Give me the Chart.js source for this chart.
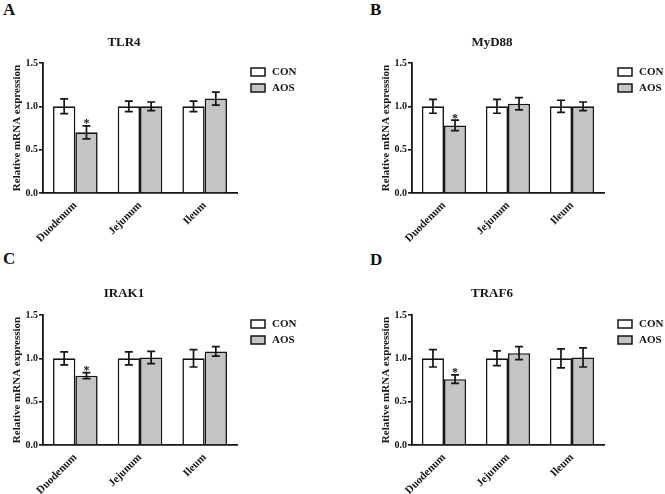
<!DOCTYPE html>
<html><head><meta charset="utf-8">
<script src="https://cdn.jsdelivr.net/npm/chart.js@4/dist/chart.umd.min.js"></script>
<style>
html,body{margin:0;padding:0;background:#fff;width:665px;height:494px;overflow:hidden;position:relative}
canvas{position:absolute}
.lt{position:absolute;font-family:"Liberation Serif",serif;font-weight:bold;font-size:17px;line-height:17px;color:#111}
</style></head><body>
<div class="lt" style="left:3px;top:1px">A</div>
<div class="lt" style="left:370px;top:1px">B</div>
<div class="lt" style="left:3px;top:250px">C</div>
<div class="lt" style="left:370px;top:251px">D</div>
<canvas id="cA" width="363" height="247" style="left:-53px;top:0"></canvas>
<canvas id="cB" width="340" height="247" style="left:325px;top:0"></canvas>
<canvas id="cC" width="368" height="247" style="left:-58px;top:247px"></canvas>
<canvas id="cD" width="340" height="247" style="left:325px;top:247px"></canvas>
<script>
// ---- data ----
const categories = ["Duodenum", "Jejunum", "Ileum"];
const seriesNames = ["CON", "AOS"];
const geneTitles = ["TLR4", "MyD88", "IRAK1", "TRAF6"];
const yAxisTitle = "Relative mRNA expression";
const yTicks = [0.0, 0.5, 1.0, 1.5];

const tlr4Con = [1.00, 1.00, 1.00];
const tlr4ConErr = [0.085, 0.06, 0.06];
const tlr4Aos = [0.70, 1.00, 1.09];
const tlr4AosErr = [0.075, 0.05, 0.075];
const tlr4Sig = ["*", "", ""];

const myd88Con = [1.00, 1.00, 1.00];
const myd88ConErr = [0.08, 0.08, 0.07];
const myd88Aos = [0.78, 1.03, 1.00];
const myd88AosErr = [0.06, 0.07, 0.05];
const myd88Sig = ["*", "", ""];

const irak1Con = [1.00, 1.00, 1.00];
const irak1ConErr = [0.075, 0.075, 0.10];
const irak1Aos = [0.80, 1.01, 1.08];
const irak1AosErr = [0.035, 0.07, 0.055];
const irak1Sig = ["*", "", ""];

const traf6Con = [1.00, 1.00, 1.00];
const traf6ConErr = [0.10, 0.085, 0.11];
const traf6Aos = [0.76, 1.06, 1.01];
const traf6AosErr = [0.05, 0.075, 0.11];
const traf6Sig = ["*", "", ""];

// ---- styling / layout ----
const FONT = '"Liberation Serif", "Times New Roman", serif';
const INK = '#151515';
const FILLS = ['#ffffff', '#c4c4c4'];
const YW = 32;

const annotPlugin = {
  id: 'annot',
  afterDatasetsDraw(chart) {
    const ctx = chart.ctx;
    const ys = chart.scales.y;
    const ca = chart.chartArea;
    ctx.save();
    ctx.strokeStyle = INK;
    ctx.fillStyle = INK;
    ctx.lineWidth = 1.7;
    chart.data.datasets.forEach((ds, i) => {
      const meta = chart.getDatasetMeta(i);
      meta.data.forEach((bar, j) => {
        const v = ds.data[j], e = ds.err[j];
        const x = bar.x;
        const yt = ys.getPixelForValue(v + e);
        const yb = ys.getPixelForValue(v - e);
        ctx.beginPath();
        ctx.moveTo(x, yt); ctx.lineTo(x, yb);
        ctx.moveTo(x - 4, yt); ctx.lineTo(x + 4, yt);
        ctx.moveTo(x - 4, yb); ctx.lineTo(x + 4, yb);
        ctx.stroke();
        if (ds.sig && ds.sig[j]) {
          ctx.font = 'bold 12px ' + FONT;
          ctx.textAlign = 'center';
          ctx.textBaseline = 'alphabetic';
          ctx.fillText(ds.sig[j], x, yt + 1.5);
        }
      });
    });
    // legend at right of plot
    chart.data.datasets.forEach((ds, i) => {
      const bx = ca.right + 14, by = ca.top + 5 + i * 16;
      ctx.fillStyle = ds.backgroundColor;
      ctx.fillRect(bx, by, 14, 8);
      ctx.lineWidth = 1.5;
      ctx.strokeStyle = INK;
      ctx.strokeRect(bx, by, 14, 8);
      ctx.fillStyle = INK;
      ctx.font = 'bold 11px ' + FONT;
      ctx.textAlign = 'left';
      ctx.textBaseline = 'middle';
      ctx.fillText(ds.label, bx + 21, by + 4.5);
    });
    ctx.restore();
  }
};

function makePanel(id, title, con, conErr, aos, aosErr, sig, box) {
  const c = document.getElementById(id);
  const W = c.width, H = c.height;
  new Chart(c, {
    type: 'bar',
    data: {
      labels: categories,
      datasets: [
        { label: seriesNames[0], data: con, err: conErr, backgroundColor: FILLS[0],
          borderColor: INK, borderWidth: 1.6, categoryPercentage: 0.69, barPercentage: 1.0 },
        { label: seriesNames[1], data: aos, err: aosErr, sig: sig, backgroundColor: FILLS[1],
          borderColor: INK, borderWidth: 1.6, categoryPercentage: 0.69, barPercentage: 1.0 }
      ]
    },
    options: {
      responsive: false,
      animation: false,
      devicePixelRatio: 1,
      layout: { padding: { left: box.left - YW, right: W - box.right, top: 0, bottom: 0 } },
      plugins: {
        legend: { display: false },
        tooltip: { enabled: false },
        title: {
          display: true, text: title, color: INK,
          font: { family: FONT, size: 13, weight: 'bold', lineHeight: '15px' },
          padding: { top: box.tp, bottom: box.top - box.tp - 15 }
        }
      },
      scales: {
        x: {
          grid: { display: false, drawTicks: false },
          border: { display: true, color: INK, width: 1.8 },
          ticks: { color: INK, font: { family: FONT, size: 11, weight: 'bold' },
                   minRotation: 45, maxRotation: 45, padding: 6, autoSkip: false },
          afterFit: s => { s.height = H - box.bottom; }
        },
        y: {
          min: yTicks[0], max: yTicks[yTicks.length - 1],
          afterBuildTicks: s => { s.ticks = yTicks.map(v => ({ value: v })); },
          grid: { display: true, drawOnChartArea: false, drawTicks: true, tickLength: 4,
                  color: INK, lineWidth: 1.6 },
          border: { display: true, color: INK, width: 1.8 },
          ticks: { color: INK, padding: 1, font: { family: FONT, size: 10, weight: 'bold' },
                   callback: v => Number(v).toFixed(1) },
          title: { display: true, text: yAxisTitle, color: INK, padding: 0,
                   font: { family: FONT, size: 11, weight: 'bold' } },
          afterFit: s => { s.width = YW; }
        }
      }
    },
    plugins: [annotPlugin]
  });
}

makePanel('cA', geneTitles[0], tlr4Con, tlr4ConErr, tlr4Aos, tlr4AosErr, tlr4Sig,
  { left: 96, right: 290, top: 63, bottom: 193, tp: 35 });
makePanel('cB', geneTitles[1], myd88Con, myd88ConErr, myd88Aos, myd88AosErr, myd88Sig,
  { left: 87, right: 279, top: 63, bottom: 193, tp: 35 });
makePanel('cC', geneTitles[2], irak1Con, irak1ConErr, irak1Aos, irak1AosErr, irak1Sig,
  { left: 101, right: 295, top: 68, bottom: 198, tp: 39.5 });
makePanel('cD', geneTitles[3], traf6Con, traf6ConErr, traf6Aos, traf6AosErr, traf6Sig,
  { left: 87, right: 279, top: 68, bottom: 198, tp: 39.5 });
</script>
</body></html>
